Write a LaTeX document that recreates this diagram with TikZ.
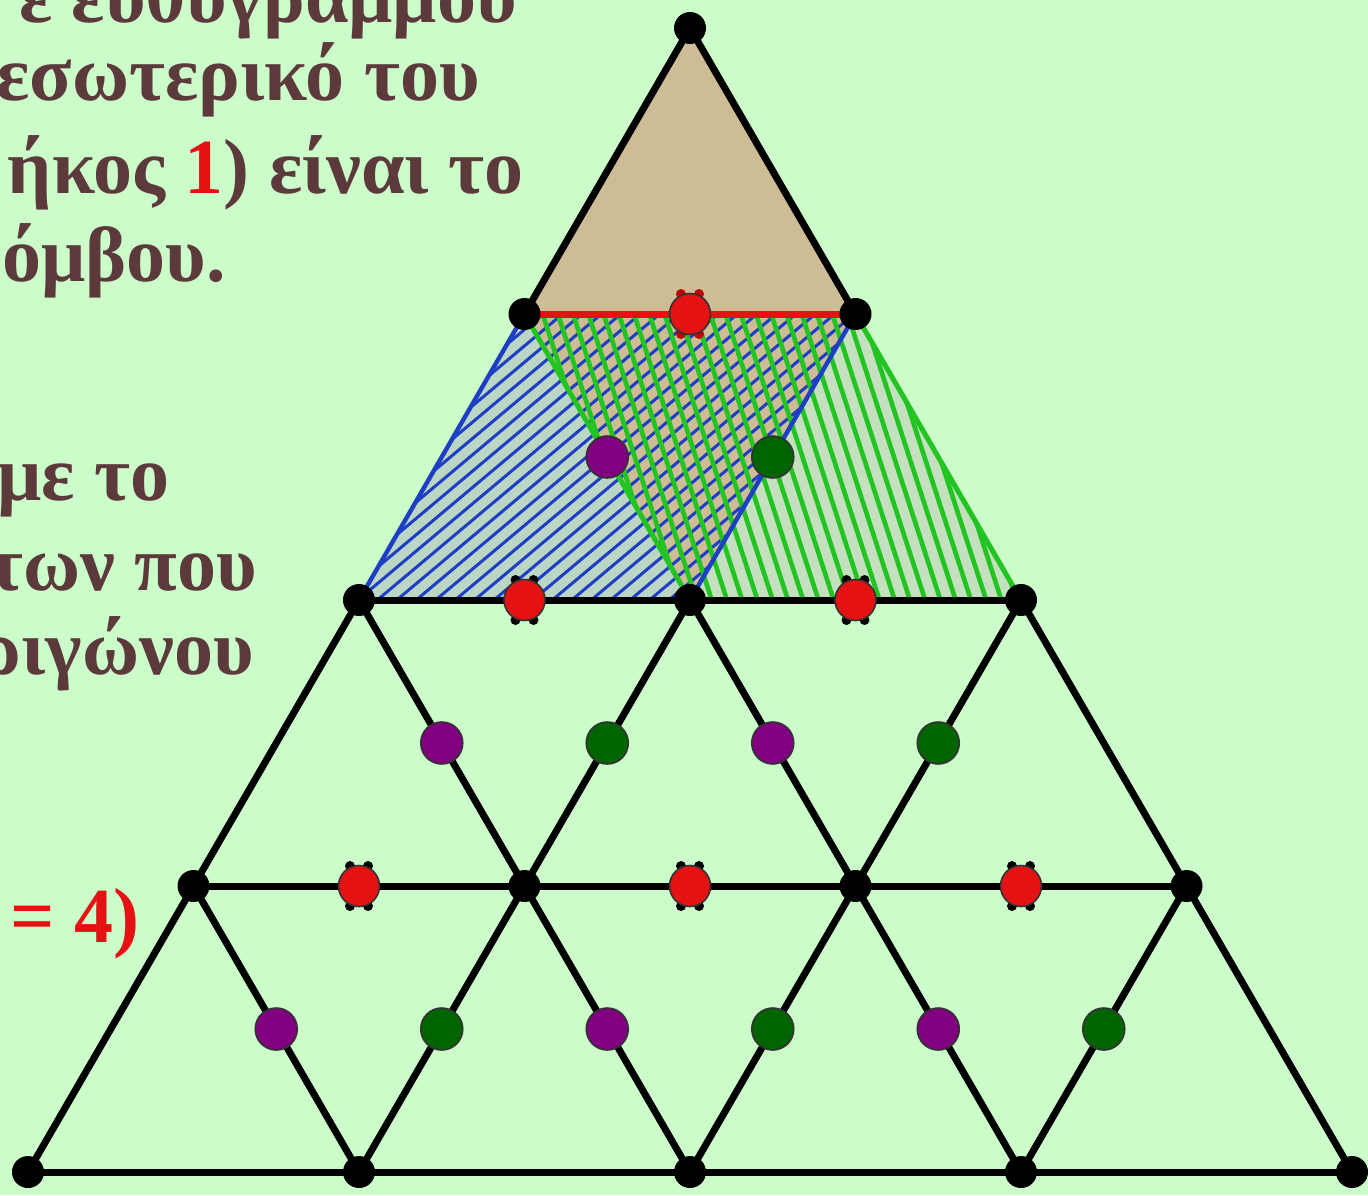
\documentclass[tikz,border=0pt]{standalone}
\usepackage{fontspec}
\setmainfont{Liberation Serif}
\usetikzlibrary{calc}
\definecolor{bgc}{RGB}{204,252,202}
\definecolor{toptan}{RGB}{205,188,150}
\definecolor{leftfill}{RGB}{188,214,198}
\definecolor{rightfill}{RGB}{196,224,190}
\definecolor{hblue}{RGB}{30,62,196}
\definecolor{hgreen}{RGB}{34,196,34}
\definecolor{txtc}{RGB}{92,58,60}
\definecolor{redc}{RGB}{228,18,18}
\definecolor{purc}{RGB}{128,0,128}
\definecolor{dgreen}{RGB}{0,100,0}
\tikzset{
  txt/.style={anchor=base east, inner sep=0pt, text=txtc, font=\fontsize{39pt}{39pt}\selectfont\bfseries},
  gridline/.style={draw=black, line width=3.5pt, line cap=round},
  redline/.style={draw=redc, line width=3.5pt},
  blueedge/.style={draw=hblue, line width=2.2pt},
  greenedge/.style={draw=hgreen, line width=2.5pt},
  bluehatch/.style={draw=hblue, line width=1.5pt},
  greenhatch/.style={draw=hgreen, line width=2.3pt},
  vdot/.style={circle, fill=black, inner sep=0pt, minimum size=16pt},
  mdot/.style={circle, draw=black!80, line width=0.8pt, inner sep=0pt, minimum size=21pt},
  reddot/.style={mdot, fill=redc, minimum size=20.5pt},
  purdot/.style={mdot, fill=purc},
  grdot/.style={mdot, fill=dgreen},
  ear/.style={circle, inner sep=0pt, minimum size=5pt}
}
\begin{document}
\begin{tikzpicture}[x=0.5pt,y=-0.5pt]
\useasboundingbox (0,0) rectangle (1368,1195);
\fill[bgc] (0,0) rectangle (1368,1195);
% text (cut at the left edge, as in the reference)
\begin{scope}
\clip (0,0) rectangle (1368,1195);
\node[txt] (t1) at (517,22) {ε ευθύγραμμου};
\node[txt] (t2) at (480,100) {εσωτερικό του};
\node[txt] (t3) at (524,193) {ήκος \textcolor{redc}{1}) είναι το};
\node[txt] (t4) at (226,281) {όμβου.};
\node[txt] (t5) at (170,500) {με το};
\node[txt] (t6) at (257,590) {των που};
\node[txt] (t7) at (254,674) {ριγώνου};
\node[txt, text=redc] (t8) at (140,942) {= 4)};
\end{scope}
% vertices
\coordinate (A) at (690,28);
\coordinate (B1) at (524.5,314);
\coordinate (B2) at (855.5,314);
\coordinate (C1) at (359,600);
\coordinate (C2) at (690,600);
\coordinate (C3) at (1021,600);
\coordinate (D1) at (193.5,886);
\coordinate (D2) at (524.5,886);
\coordinate (D3) at (855.5,886);
\coordinate (D4) at (1186.5,886);
\coordinate (E1) at (28,1172);
\coordinate (E2) at (359,1172);
\coordinate (E3) at (690,1172);
\coordinate (E4) at (1021,1172);
\coordinate (E5) at (1352,1172);
% fills
\fill[toptan] (A)--(B1)--(B2)--cycle;
\fill[leftfill] (B1)--(C1)--(C2)--cycle;
\fill[toptan] (B1)--(B2)--(C2)--cycle;
\fill[rightfill] (B2)--(C2)--(C3)--cycle;
% blue hatching
\begin{scope}
\clip (B1)--(B2)--(C2)--(C1)--cycle;
\foreach \i in {-32,...,32}
  \draw[bluehatch] ({606+\i*12.5*0.643-420*0.766},{457+\i*12.5*0.766+420*0.643}) -- ({606+\i*12.5*0.643+420*0.766},{457+\i*12.5*0.766-420*0.643});
\end{scope}
% green hatching
\begin{scope}
\clip (B1)--(B2)--(C3)--(C2)--cycle;
\foreach \i in {-30,...,30}
  \draw[greenhatch] ({772-\i*14.5*0.951-420*0.309},{457+\i*14.5*0.309-420*0.951}) -- ({772-\i*14.5*0.951+420*0.309},{457+\i*14.5*0.309+420*0.951});
\end{scope}
% rhombus edges
\draw[blueedge] (B1)--(C1);
\draw[blueedge] (B2)--(C2);
\draw[greenedge] (B1)--(C2);
\draw[greenedge] (B2)--(C3);
% black grid
\draw[gridline] (A)--(B1);
\draw[gridline] (A)--(B2);
\draw[gridline] (C1)--(C3);
\draw[gridline] (D1)--(D4);
\draw[gridline] (E1)--(E5);
\draw[gridline] (C1)--(E1);
\draw[gridline] (C2)--(E2);
\draw[gridline] (C3)--(E3);
\draw[gridline] (D4)--(E4);
\draw[gridline] (C1)--(E3);
\draw[gridline] (C2)--(E4);
\draw[gridline] (C3)--(E5);
\draw[gridline] (D1)--(E2);
\draw[redline] (B1)--(B2);
% vertex dots
\foreach \v in {A,B1,B2,C1,C2,C3,D1,D2,D3,D4,E1,E2,E3,E4,E5}
  \node[vdot] (dot\v) at (\v) {};
% red midpoints with small ears
\foreach \a/\b/\n/\ec in {B1/B2/r1/red!75!black,C1/C2/r2/black,C2/C3/r3/black,D1/D2/r4/black,D2/D3/r5/black,D3/D4/r6/black}{
  \coordinate (m\n) at ($(\a)!0.5!(\b)$);
  \foreach \dx/\dy in {-9/-20,9/-20,-9/20,9/20}
    \node[ear, fill=\ec] at ($(m\n)+(\dx,\dy)$) {};
  \node[reddot] (\n) at (m\n) {};
}
% purple midpoints
\foreach \a/\b/\n in {B1/C2/p1,C1/D2/p2,C2/D3/p3,D1/E2/p4,D2/E3/p5,D3/E4/p6}
  \node[purdot] (\n) at ($(\a)!0.5!(\b)$) {};
% green midpoints
\foreach \a/\b/\n in {B2/C2/g1,C2/D2/g2,C3/D3/g3,D2/E2/g4,D3/E3/g5,D4/E4/g6}
  \node[grdot] (\n) at ($(\a)!0.5!(\b)$) {};
\end{tikzpicture}
\end{document}
